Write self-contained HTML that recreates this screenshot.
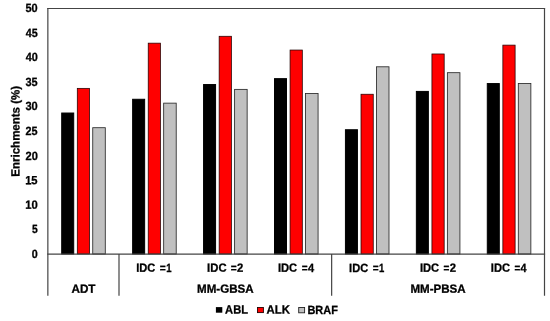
<!DOCTYPE html>
<html><head><meta charset="utf-8"><title>Enrichments</title>
<style>html,body{margin:0;padding:0;background:#fff}svg{display:block}text{font-family:"Liberation Sans",sans-serif;font-weight:bold;fill:#000;stroke:#000;stroke-width:0.3px;text-rendering:geometricPrecision}</style></head>
<body>
<svg width="550" height="321" viewBox="0 0 550 321">
<rect x="0" y="0" width="550" height="321" fill="#fff"/>
<rect x="61.71" y="113.03" width="12.00" height="140.97" fill="#000000" stroke="#000" stroke-width="1.0"/>
<rect x="77.29" y="88.35" width="12.25" height="165.65" fill="#ff0000" stroke="#200000" stroke-width="0.75"/>
<rect x="92.74" y="127.70" width="12.55" height="126.30" fill="#c0c0c0" stroke="#2a2a2a" stroke-width="0.85"/>
<rect x="132.64" y="99.28" width="12.00" height="154.72" fill="#000000" stroke="#000" stroke-width="1.0"/>
<rect x="148.22" y="43.16" width="12.25" height="210.84" fill="#ff0000" stroke="#200000" stroke-width="0.75"/>
<rect x="163.67" y="103.14" width="12.55" height="150.86" fill="#c0c0c0" stroke="#2a2a2a" stroke-width="0.85"/>
<rect x="203.57" y="84.54" width="12.00" height="169.46" fill="#000000" stroke="#000" stroke-width="1.0"/>
<rect x="219.15" y="36.28" width="12.25" height="217.72" fill="#ff0000" stroke="#200000" stroke-width="0.75"/>
<rect x="234.60" y="89.38" width="12.55" height="164.62" fill="#c0c0c0" stroke="#2a2a2a" stroke-width="0.85"/>
<rect x="274.50" y="78.65" width="12.00" height="175.35" fill="#000000" stroke="#000" stroke-width="1.0"/>
<rect x="290.07" y="50.04" width="12.25" height="203.96" fill="#ff0000" stroke="#200000" stroke-width="0.75"/>
<rect x="305.53" y="93.56" width="12.55" height="160.44" fill="#c0c0c0" stroke="#2a2a2a" stroke-width="0.85"/>
<rect x="345.43" y="129.74" width="12.00" height="124.26" fill="#000000" stroke="#000" stroke-width="1.0"/>
<rect x="361.00" y="94.24" width="12.25" height="159.76" fill="#ff0000" stroke="#200000" stroke-width="0.75"/>
<rect x="376.45" y="66.79" width="12.55" height="187.21" fill="#c0c0c0" stroke="#2a2a2a" stroke-width="0.85"/>
<rect x="416.36" y="91.42" width="12.00" height="162.58" fill="#000000" stroke="#000" stroke-width="1.0"/>
<rect x="431.93" y="53.97" width="12.25" height="200.03" fill="#ff0000" stroke="#200000" stroke-width="0.75"/>
<rect x="447.38" y="72.68" width="12.55" height="181.32" fill="#c0c0c0" stroke="#2a2a2a" stroke-width="0.85"/>
<rect x="487.29" y="83.56" width="12.00" height="170.44" fill="#000000" stroke="#000" stroke-width="1.0"/>
<rect x="502.86" y="45.12" width="12.25" height="208.88" fill="#ff0000" stroke="#200000" stroke-width="0.75"/>
<rect x="518.31" y="83.49" width="12.55" height="170.51" fill="#c0c0c0" stroke="#2a2a2a" stroke-width="0.85"/>
<line x1="47.85" y1="7.9" x2="47.85" y2="295.7" stroke="#444" stroke-width="1.2"/>
<line x1="544.5" y1="7.9" x2="544.5" y2="295.7" stroke="#444" stroke-width="1.2"/>
<line x1="47.25" y1="8.5" x2="545.1" y2="8.5" stroke="#444" stroke-width="1.2"/>
<line x1="47.25" y1="254.2" x2="545.1" y2="254.2" stroke="#444" stroke-width="1.2"/>
<line x1="119.0" y1="254" x2="119.0" y2="295.7" stroke="#444" stroke-width="1.2"/>
<line x1="331.65" y1="254" x2="331.65" y2="295.7" stroke="#444" stroke-width="1.2"/>
<text transform="translate(31.78,257.85) rotate(0.03)" font-size="11.9" textLength="5.97" lengthAdjust="spacingAndGlyphs">0</text>
<text transform="translate(31.97,233.29) rotate(0.03)" font-size="11.9" textLength="5.73" lengthAdjust="spacingAndGlyphs">5</text>
<text transform="translate(25.26,208.73) rotate(0.03)" font-size="11.9" textLength="12.50" lengthAdjust="spacingAndGlyphs">10</text>
<text transform="translate(25.14,184.17) rotate(0.03)" font-size="11.9" textLength="12.45" lengthAdjust="spacingAndGlyphs">15</text>
<text transform="translate(25.59,159.61) rotate(0.03)" font-size="11.9" textLength="12.31" lengthAdjust="spacingAndGlyphs">20</text>
<text transform="translate(25.41,135.05) rotate(0.03)" font-size="11.9" textLength="12.05" lengthAdjust="spacingAndGlyphs">25</text>
<text transform="translate(25.43,110.49) rotate(0.03)" font-size="11.9" textLength="12.32" lengthAdjust="spacingAndGlyphs">30</text>
<text transform="translate(25.51,85.93) rotate(0.03)" font-size="11.9" textLength="12.14" lengthAdjust="spacingAndGlyphs">35</text>
<text transform="translate(25.83,61.37) rotate(0.03)" font-size="11.9" textLength="12.07" lengthAdjust="spacingAndGlyphs">40</text>
<text transform="translate(25.67,36.81) rotate(0.03)" font-size="11.9" textLength="11.96" lengthAdjust="spacingAndGlyphs">45</text>
<text transform="translate(25.50,12.25) rotate(0.03)" font-size="11.9" textLength="12.19" lengthAdjust="spacingAndGlyphs">50</text>
<text transform="translate(71.48,292.80) rotate(0.03)" font-size="11.9" textLength="24.01" lengthAdjust="spacingAndGlyphs">ADT</text>
<text transform="translate(197.01,292.80) rotate(0.03)" font-size="11.9" textLength="56.57" lengthAdjust="spacingAndGlyphs">MM-GBSA</text>
<text transform="translate(410.39,292.80) rotate(0.03)" font-size="11.9" textLength="55.25" lengthAdjust="spacingAndGlyphs">MM-PBSA</text>
<text transform="translate(225.11,313.60) rotate(0.03)" font-size="11.9" textLength="22.81" lengthAdjust="spacingAndGlyphs">ABL</text>
<text transform="translate(266.49,313.60) rotate(0.03)" font-size="11.9" textLength="23.34" lengthAdjust="spacingAndGlyphs">ALK</text>
<text transform="translate(307.47,313.60) rotate(0.03)" font-size="11.9" textLength="30.40" lengthAdjust="spacingAndGlyphs">BRAF</text>
<text transform="translate(136.19,271.75) rotate(0.03)" font-size="11.9"><tspan x="0.00" textLength="19.11" lengthAdjust="spacingAndGlyphs">IDC</tspan> <tspan x="23.46" textLength="6.00" lengthAdjust="spacingAndGlyphs">=</tspan><tspan x="30.14" textLength="5.32" lengthAdjust="spacingAndGlyphs">1</tspan></text>
<text transform="translate(207.11,271.75) rotate(0.03)" font-size="11.9"><tspan x="0.00" textLength="19.42" lengthAdjust="spacingAndGlyphs">IDC</tspan> <tspan x="23.66" textLength="5.93" lengthAdjust="spacingAndGlyphs">=</tspan><tspan x="30.00" textLength="6.28" lengthAdjust="spacingAndGlyphs">2</tspan></text>
<text transform="translate(277.93,271.75) rotate(0.03)" font-size="11.9"><tspan x="0.00" textLength="19.25" lengthAdjust="spacingAndGlyphs">IDC</tspan> <tspan x="23.82" textLength="5.85" lengthAdjust="spacingAndGlyphs">=</tspan><tspan x="29.97" textLength="6.14" lengthAdjust="spacingAndGlyphs">4</tspan></text>
<text transform="translate(349.12,271.75) rotate(0.03)" font-size="11.9"><tspan x="0.00" textLength="19.10" lengthAdjust="spacingAndGlyphs">IDC</tspan> <tspan x="23.66" textLength="5.85" lengthAdjust="spacingAndGlyphs">=</tspan><tspan x="29.85" textLength="5.30" lengthAdjust="spacingAndGlyphs">1</tspan></text>
<text transform="translate(419.94,271.75) rotate(0.03)" font-size="11.9"><tspan x="0.00" textLength="19.25" lengthAdjust="spacingAndGlyphs">IDC</tspan> <tspan x="23.44" textLength="5.85" lengthAdjust="spacingAndGlyphs">=</tspan><tspan x="29.86" textLength="6.29" lengthAdjust="spacingAndGlyphs">2</tspan></text>
<text transform="translate(490.86,271.75) rotate(0.03)" font-size="11.9"><tspan x="0.00" textLength="19.25" lengthAdjust="spacingAndGlyphs">IDC</tspan> <tspan x="23.56" textLength="5.77" lengthAdjust="spacingAndGlyphs">=</tspan><tspan x="29.76" textLength="6.04" lengthAdjust="spacingAndGlyphs">4</tspan></text>
<text transform="translate(19.45,176.65) rotate(-90.03)" font-size="11.9" textLength="90.73" lengthAdjust="spacingAndGlyphs">Enrichments (%)</text>
<rect x="215.9" y="307.1" width="6.4" height="5.6" fill="#000"/>
<rect x="257.5" y="307.5" width="5.9" height="5.1" fill="#f00" stroke="#200" stroke-width="0.9"/>
<rect x="298.7" y="307.5" width="5.9" height="5.3" fill="#c0c0c0" stroke="#222" stroke-width="0.9"/>
</svg></body></html>
